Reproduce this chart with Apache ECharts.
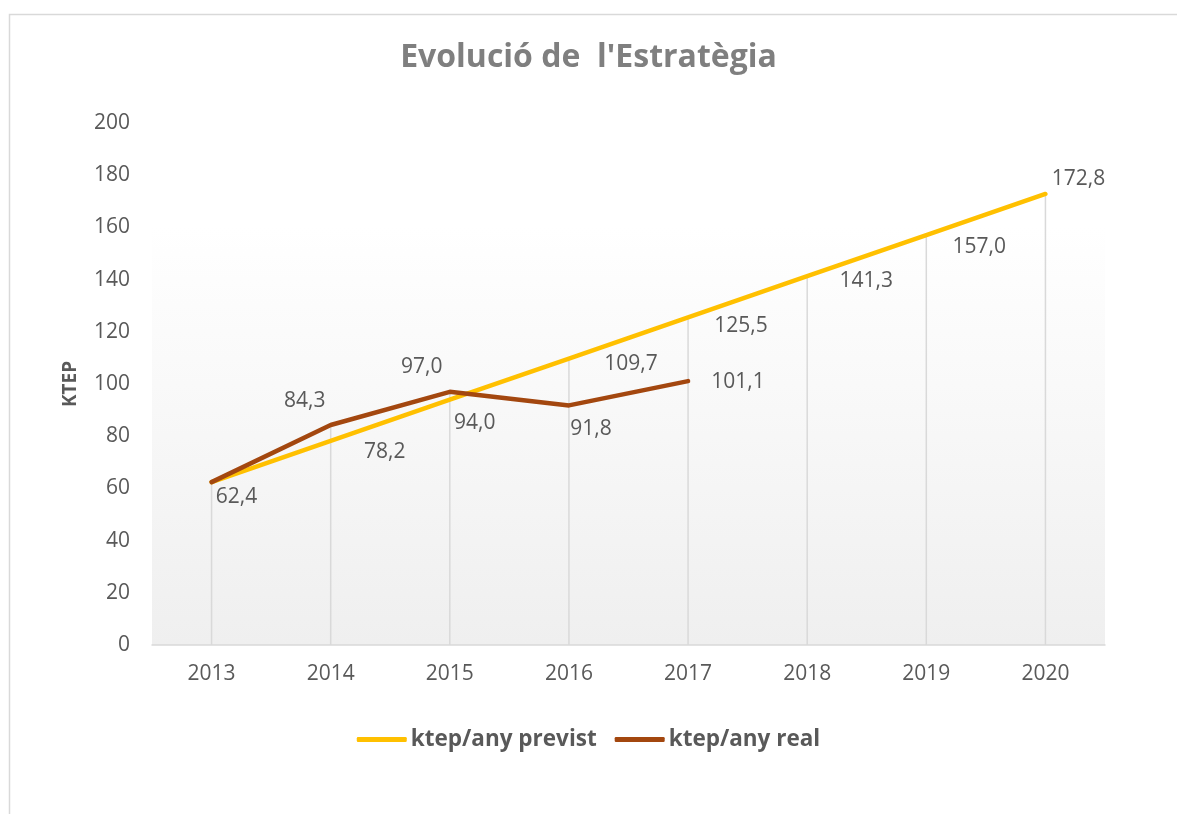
<!DOCTYPE html>
<html>
<head>
<meta charset="utf-8">
<script src="https://cdn.jsdelivr.net/npm/echarts@6/dist/echarts.min.js"></script>
<style>html,body{margin:0;padding:0;background:#fff;}#c{width:1177px;height:814px;}</style>
</head>
<body>
<div id="c"></div>
<script>
const titleText = "Evolució de  l'Estratègia";
const yAxisName = "KTEP";
const categories = ["2013","2014","2015","2016","2017","2018","2019","2020"];
const previstName = "ktep/any previst";
const realName = "ktep/any real";
const previstValues = [62.4, 78.2, 94.0, 109.7, 125.5, 141.3, 157.0, 172.8];
const realValues = [62.4, 84.3, 97.0, 91.8, 101.1];

// label placement (style, not data)
const previstLabelOffsets = [[25,15],[54,11],[25,23],[62,5],[53,9],[59,5],[53,12],[33,-15]];
const realLabelOffsets = [null,[-26,-24],[-28,-25],[22,24],[50,1]];

const fmt = v => v.toFixed(1).replace('.', ',');
const FONT = "'Open Sans', sans-serif";
const GREY = '#595959';
const FS = 21;

function mkData(vals, offs) {
  return vals.map((v, i) => ({
    value: v,
    label: offs[i] ? { show: true, position: 'inside', offset: offs[i] } : { show: false }
  }));
}

const dropData = categories.map((c, i) => {
  const vals = [previstValues[i], realValues[i]].filter(v => v != null);
  return [i, Math.max.apply(null, vals)];
});

const chart = echarts.init(document.getElementById('c'));
chart.setOption({
  backgroundColor: '#fff',
  animation: false,
  graphic: [{
    type: 'rect', z: -10,
    shape: { x: 9.5, y: 14.5, width: 1300, height: 1000 },
    style: { fill: 'none', stroke: '#d9d9d9', lineWidth: 1.5 }
  }],
  title: {
    text: titleText, left: 'center', top: 37,
    textStyle: { fontFamily: FONT, fontSize: 32, fontWeight: 'bold', color: '#7f7f7f' }
  },
  legend: {
    bottom: 58, left: 'center', itemGap: 18,
    itemWidth: 50, itemHeight: 5, icon: 'roundRect',
    textStyle: { fontFamily: FONT, fontSize: 22.5, fontWeight: 'bold', color: GREY, padding: [0,0,0,-1] },
    data: [previstName, realName]
  },
  grid: {
    left: 152, right: 72, top: 123, bottom: 169, show: true, borderWidth: 0,
    backgroundColor: new echarts.graphic.LinearGradient(0, 0, 0, 1, [
      { offset: 0, color: '#ffffff' }, { offset: 0.2, color: '#ffffff' }, { offset: 1, color: '#efefef' }
    ])
  },
  xAxis: {
    type: 'category', data: categories, boundaryGap: true,
    axisLine: { lineStyle: { color: '#d9d9d9', width: 1.5 } },
    axisTick: { show: false },
    axisLabel: { fontFamily: FONT, fontSize: FS, color: GREY, margin: 19 },
    splitLine: { show: false }
  },
  yAxis: {
    type: 'value', min: 0, max: 200, interval: 20,
    name: yAxisName, nameLocation: 'middle', nameGap: 72,
    nameTextStyle: { fontFamily: FONT, fontSize: 19, fontWeight: 'bold', color: GREY },
    axisLine: { show: false }, axisTick: { show: false },
    axisLabel: { fontFamily: FONT, fontSize: FS, color: GREY, margin: 22 },
    splitLine: { show: false }
  },
  series: [
    {
      type: 'custom', name: 'drop', silent: true, z: 1,
      data: dropData,
      renderItem: (params, api) => {
        const p0 = api.coord([api.value(0), 0]);
        const p1 = api.coord([api.value(0), api.value(1)]);
        return { type: 'line', shape: { x1: p0[0], y1: p0[1], x2: p1[0], y2: p1[1] },
                 style: { stroke: '#d9d9d9', lineWidth: 1.5 } };
      }
    },
    {
      type: 'line', name: previstName, z: 3,
      data: mkData(previstValues, previstLabelOffsets),
      symbol: 'circle', symbolSize: 1, showSymbol: true,
      itemStyle: { color: '#FFC000' },
      lineStyle: { color: '#FFC000', width: 4.5, cap: 'round', join: 'round' },
      label: { fontFamily: FONT, fontSize: FS, color: GREY, formatter: p => fmt(p.value) }
    },
    {
      type: 'line', name: realName, z: 4,
      data: mkData(realValues, realLabelOffsets),
      symbol: 'circle', symbolSize: 1, showSymbol: true,
      itemStyle: { color: '#A3470F' },
      lineStyle: { color: '#A3470F', width: 4.5, cap: 'round', join: 'round' },
      label: { fontFamily: FONT, fontSize: FS, color: GREY, formatter: p => fmt(p.value) }
    }
  ]
});
</script>
</body>
</html>
